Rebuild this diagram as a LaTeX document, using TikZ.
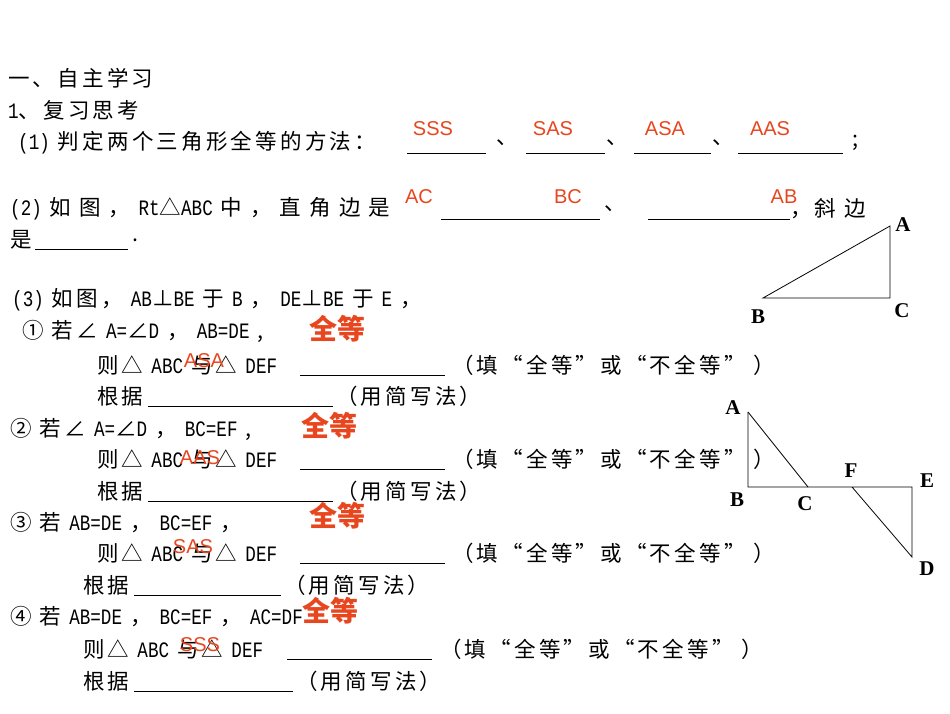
\documentclass[tikz,border=0pt]{standalone}
\usepackage{fontspec}
\newfontfamily\cjk[LetterSpace=15]{Noto Sans CJK SC}
\newfontfamily\cjkb{Noto Sans CJK SC}
\newfontfamily\mono[FakeStretch=0.8]{Liberation Mono}
\newfontfamily\lsans{Liberation Sans}
\newfontfamily\lserif{Liberation Serif}
\newcommand\mm[1]{{\mono\fontsize{22}{24}\selectfont #1}}
\definecolor{redc}{HTML}{E8461E}
\begin{document}
\begin{tikzpicture}[x=1pt,y=-1pt,
  txt/.style={anchor=west,inner sep=0pt,font=\cjk\fontsize{21.5}{24}\selectfont},
  ans/.style={anchor=center,inner sep=0pt,text=redc,font=\lsans\fontsize{20}{22}\selectfont},
  big/.style={anchor=center,inner sep=0pt,text=redc,font=\cjkb\bfseries\fontsize{28}{30}\selectfont},
  lab/.style={inner sep=0pt,font=\lserif\bfseries\fontsize{21}{24}\selectfont},
  ul/.style={line width=0.9pt},
  fig/.style={line width=0.8pt}]
\fill[white] (0,0) rectangle (950,713);
\useasboundingbox (0,0) rectangle (950,713);
% section 1
\node[txt] (t1) at (8,78) {一、自主学习};
\node[txt] (t2) at (8,110) {\mm{1}、复习思考};
\node[txt] (t3) at (18,143) {\mm{(1)} 判定两个三角形全等的方法：};
\draw[ul] (407,153) -- (486,153);
\node[txt] (t3a) at (496,143) {、};
\draw[ul] (526,153) -- (605,153);
\node[txt] (t3b) at (606,143) {、};
\draw[ul] (634,153) -- (711,153);
\node[txt] (t3c) at (712,143) {、};
\draw[ul] (738,153) -- (843,153);
\node[txt] (t3d) at (852,143) {;};
\node[ans] (a1) at (433,129) {SSS};
\node[ans] (a2) at (553,129) {SAS};
\node[ans] (a3) at (665,129) {ASA};
\node[ans] (a4) at (770,129) {AAS};
% (2)
\node[txt] (t4) at (10,209) {\mm{(2)} 如 图 ，\ \mm{Rt}△\mm{ABC} 中 ， 直 角 边 是};
\draw[ul] (441,219) -- (600,219);
\node[txt] (t4a) at (604,209) {、};
\draw[ul] (648,219) -- (790,219);
\node[txt] (t4b) at (790,209) {，斜 边};
\node[ans] (a5) at (419,197) {AC};
\node[ans] (a6) at (568,197) {BC};
\node[ans] (a7) at (784,197) {AB};
\node[txt] (t5) at (10,240) {是};
\draw[ul] (35,249) -- (128,249);
\node[txt] (t5a) at (132,240) {.};
% (3)
\node[txt] (t6) at (12,300) {\mm{(3)} 如图，\ \mm{AB}⊥\mm{BE} 于 \mm{B} ，\ \mm{DE}⊥\mm{BE} 于 \mm{E} ，};
\node[txt] (t7) at (22,331) {① 若∠ \mm{A=}∠\mm{D} ，\ \mm{AB=DE} ,};
\node[big] (g1) at (337,329) {全等};
\node[txt] (t8) at (97,365) {则△ \mm{ABC} 与△ \mm{DEF}};
\draw[ul] (300,375) -- (445,375);
\node[txt] (t8a) at (452,365) {（填“全等”或“不全等” ）};
\node[ans] (a8) at (204,361) {ASA};
\node[txt] (t9) at (97,396) {根据};
\draw[ul] (148,406) -- (333,406);
\node[txt] (t9a) at (336,396) {（用简写法）};
\node[txt] (t10) at (10,429) {② 若∠ \mm{A=}∠\mm{D} ，\ \mm{BC=EF} ,};
\node[big] (g2) at (329,426) {全等};
\node[txt] (t11) at (97,459) {则△ \mm{ABC} 与△ \mm{DEF}};
\draw[ul] (300,469) -- (445,469);
\node[txt] (t11a) at (452,459) {（填“全等”或“不全等” ）};
\node[ans] (a9) at (200,458) {AAS};
\node[txt] (t12) at (97,491) {根据};
\draw[ul] (148,501) -- (333,501);
\node[txt] (t12a) at (336,491) {（用简写法）};
\node[txt] (t13) at (10,523) {③ 若 \mm{AB=DE} ，\ \mm{BC=EF} ，};
\node[big] (g3) at (337,516) {全等};
\node[txt] (t14) at (97,553) {则△ \mm{ABC} 与△ \mm{DEF}};
\draw[ul] (300,563) -- (445,563);
\node[txt] (t14a) at (452,553) {（填“全等”或“不全等” ）};
\node[ans] (a10) at (193,547) {SAS};
\node[txt] (t15) at (83,585) {根据};
\draw[ul] (134,595) -- (281,595);
\node[txt] (t15a) at (284,585) {（用简写法）};
\node[txt] (t16) at (10,617) {④ 若 \mm{AB=DE} ，\ \mm{BC=EF} ，\ \mm{AC=DF}};
\node[big] (g4) at (330,611) {全等};
\node[txt] (t17) at (83,649) {则△ \mm{ABC} 与△ \mm{DEF}};
\draw[ul] (287,659) -- (432,659);
\node[txt] (t17a) at (440,649) {（填“全等”或“不全等” ）};
\node[ans] (a11) at (200,645) {SSS};
\node[txt] (t18) at (83,681) {根据};
\draw[ul] (134,691) -- (293,691);
\node[txt] (t18a) at (296,681) {（用简写法）};
% figure 1
\coordinate (A1) at (890,226);
\coordinate (B1) at (763,298);
\coordinate (C1) at (890,298);
\draw[fig] (A1) -- (B1) -- (C1) -- cycle;
\node[lab] (lA1) at (903,225) {A};
\node[lab] (lB1) at (758,317) {B};
\node[lab] (lC1) at (902,311) {C};
% figure 2
\coordinate (A2) at (748,412);
\coordinate (B2) at (748,487);
\coordinate (C2) at (808,487);
\coordinate (F2) at (852,487);
\coordinate (E2) at (912,487);
\coordinate (D2) at (912,557);
\draw[fig] (A2) -- (B2) -- (E2) -- (D2) -- (F2);
\draw[fig] (A2) -- (C2);
\node[lab] (lA2) at (733,408) {A};
\node[lab] (lB2) at (737,500) {B};
\node[lab] (lC2) at (805,504) {C};
\node[lab] (lF2) at (851,471) {F};
\node[lab] (lE2) at (927,481) {E};
\node[lab] (lD2) at (927,569) {D};
\end{tikzpicture}
\end{document}
